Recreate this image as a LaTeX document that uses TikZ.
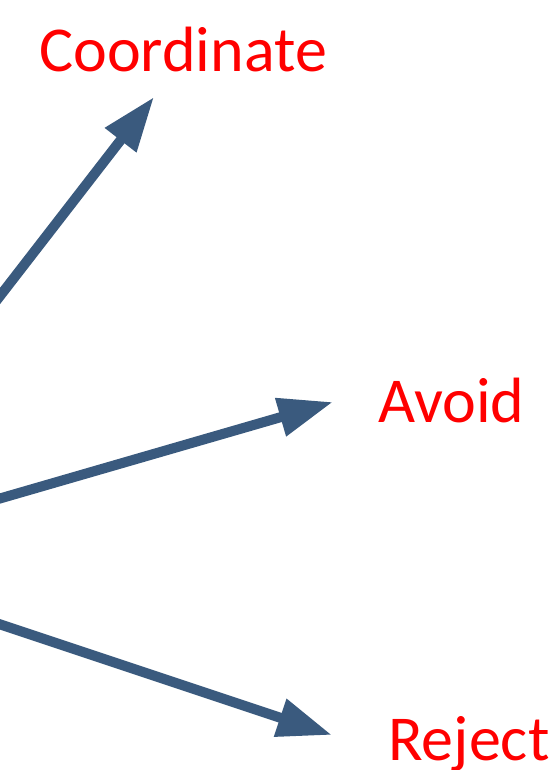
\documentclass[tikz,border=0pt]{standalone}
\usepackage{xcolor}
\usepackage{fontspec}
\usepackage{tikz}
\usetikzlibrary{arrows.meta}
\setmainfont{Carlito}
\definecolor{arrowBlue}{HTML}{3A5A7E}
\definecolor{labelRed}{HTML}{FF0000}

\begin{document}
\begin{tikzpicture}[
    x=0.75pt, y=-0.75pt,
    choice/.style={anchor=base west, inner sep=0pt, text=labelRed, font=\fontsize{48}{58}\selectfont},
    arrow/.style={-{Triangle[length=41pt, width=28pt]}, line width=7.5pt, color=arrowBlue},
]
\clip (0,0) rectangle (549,770);

% Common source (off the left edge)
\coordinate (hub) at (-202,557);

% Choices
\node[choice] (coord) at (39,72) {Coordinate};
\node[choice] (avoid) at (378,422) {Avoid};
\node[choice] (reject) at (388,760) {Reject};

% Arrow tips
\coordinate (tipCoord) at (154,97);
\coordinate (tipAvoid) at (333,402);
\coordinate (tipReject) at (332,735);

% Arrows
\draw[arrow] (hub) -- (tipCoord);
\draw[arrow] (hub) -- (tipAvoid);
\draw[arrow] (hub) -- (tipReject);

\end{tikzpicture}
\end{document}
